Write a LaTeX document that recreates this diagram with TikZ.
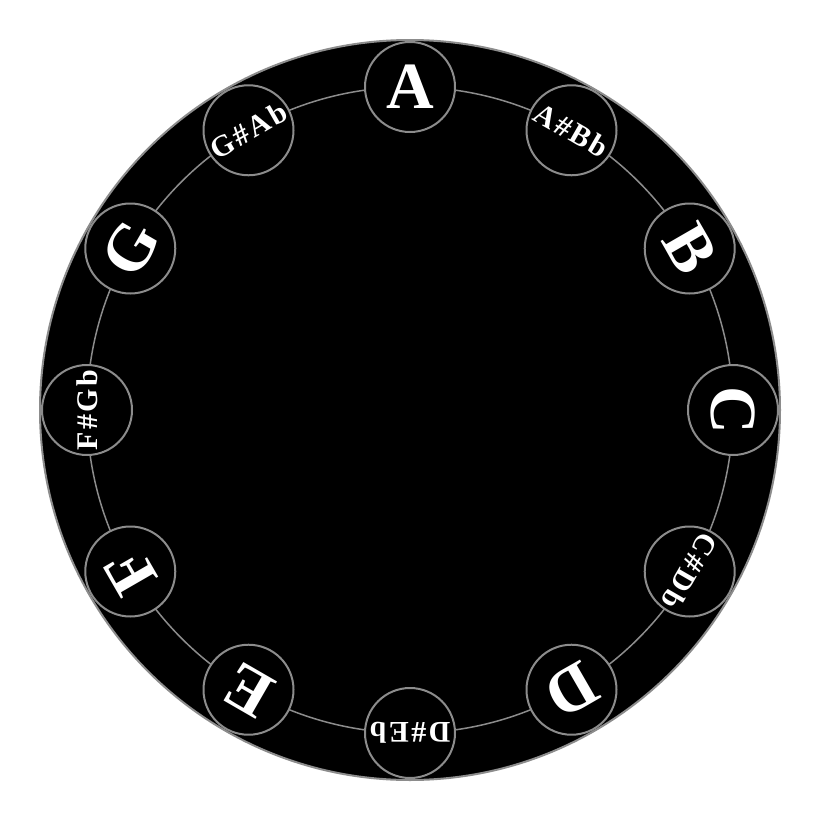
\documentclass[tikz,border=0pt]{standalone}
\usepackage{fontspec}
\newfontfamily\notebigfont{Liberation Serif}
\newfontfamily\notesmallfont{Liberation Serif}[LetterSpace=8]
\usetikzlibrary{calc}
\begin{document}
\begin{tikzpicture}[x=1pt,y=-1pt,
  ringline/.style={draw=gray!90,line width=1.5pt},
  notecirc/.style={circle,minimum size=90pt,inner sep=0pt,fill=black,draw=gray!90,line width=2pt},
  bigname/.style={text=white,font=\notebigfont\bfseries\fontsize{66}{66}\selectfont},
  smallname/.style={text=white,font=\notesmallfont\bfseries\fontsize{30}{30}\selectfont}]
\useasboundingbox[fill=white] (0,0) rectangle (820,819);
\coordinate (ctr) at (410,410);
\node[circle,minimum size=740pt,inner sep=0pt,fill=black,draw=gray!90,line width=2pt] (disc) at (ctr) {};
\draw[ringline] (ctr) circle[radius=323pt];
\foreach \name/\ang/\sty [count=\i] in {A/90/bigname, A\#Bb/60/smallname, B/30/bigname, C/0/bigname, C\#Db/-30/smallname, D/-60/bigname, D\#Eb/-90/smallname, E/-120/bigname, F/-150/bigname, F\#Gb/180/smallname, G/150/bigname, G\#Ab/120/smallname}{
  \node[notecirc] (c\i) at ($(ctr)+(\ang:323pt)$) {};
  \node[\sty,rotate=\ang-90] (t\i) at (c\i) {\name};
}
\end{tikzpicture}
\end{document}
